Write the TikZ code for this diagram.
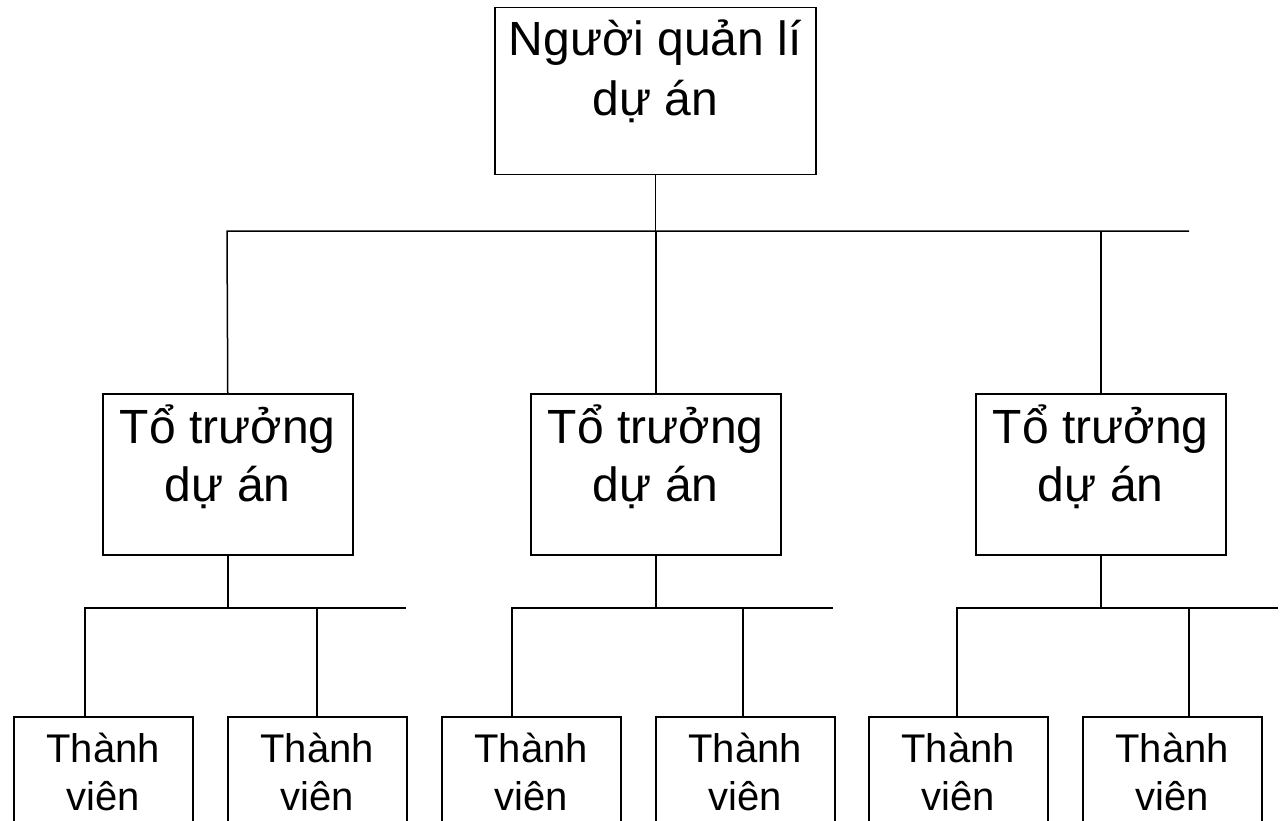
\documentclass[tikz,border=0pt]{standalone}
\usepackage{fontspec}
\setmainfont{Liberation Sans}

% box with text set from its top edge: height, width, first-line height, text
\newcommand{\cell}[4]{\parbox[t][#1][t]{#2}{\centering\rule{0pt}{#3}#4}}

\tikzset{
	orgbox/.style={draw,line width=1.5pt,inner sep=0pt,anchor=north west},
	mgrbox/.style={orgbox,font=\fontsize{48}{60}\selectfont},
	leadbox/.style={orgbox,font=\fontsize{48}{58}\selectfont},
	membox/.style={orgbox,font=\fontsize{40}{48}\selectfont},
	wire/.style={line width=1.5pt}
}

\begin{document}
\begin{tikzpicture}[x=1pt,y=-1pt]
	\useasboundingbox (0,0) rectangle (1281,821);
	\clip (0,0) rectangle (1281,821);
	\fill[white] (0,0) rectangle (1281,821);
	% manager
	\node[mgrbox] (pm) at (494,7) {\cell{167pt}{321pt}{48pt}{Người quản lí\\dự án}};
	% team leaders
	\node[leadbox] (lead1) at (102,393) {\cell{161pt}{250pt}{50pt}{Tổ trưởng\\dự án}};
	\node[leadbox] (lead2) at (530,393) {\cell{161pt}{250pt}{50pt}{Tổ trưởng\\dự án}};
	\node[leadbox] (lead3) at (975,393) {\cell{161pt}{250pt}{50pt}{Tổ trưởng\\dự án}};
	% members
	\foreach \g/\xa/\xb in {1/13/227,2/441/655,3/868/1082} {
		\node[membox] (mem\g1) at (\xa,716) {\cell{140pt}{179pt}{46pt}{Thành\\viên}};
		\node[membox] (mem\g2) at (\xb,716) {\cell{140pt}{179pt}{46pt}{Thành\\viên}};
	}
	% top bus
	\begin{scope}[wire]
		\coordinate (busL) at (227,231);
		\coordinate (busR) at (1189,231);
		\draw (pm.south) -- (pm.south |- busL);
		\draw (lead1.north) -- (busL) -- (busR);
		\draw (lead2.north |- busL) -- (lead2.north);
		\draw (lead3.north |- busL) -- (lead3.north);
	\end{scope}
	% lower buses
	\begin{scope}[wire]
		\foreach \g/\lx/\bx/\rx in {1/85/317/406,2/512/743/833,3/957/1189/1278} {
			\coordinate (sub\g L) at (\lx,608);
			\coordinate (sub\g B) at (\bx,608);
			\coordinate (sub\g R) at (\rx,608);
			\draw (lead\g.south) -- (lead\g.south |- sub\g L);
			\draw (sub\g L |- mem\g1.north) -- (sub\g L) -- (sub\g R);
			\draw (sub\g B) -- (sub\g B |- mem\g2.north);
		}
	\end{scope}
\end{tikzpicture}
\end{document}
